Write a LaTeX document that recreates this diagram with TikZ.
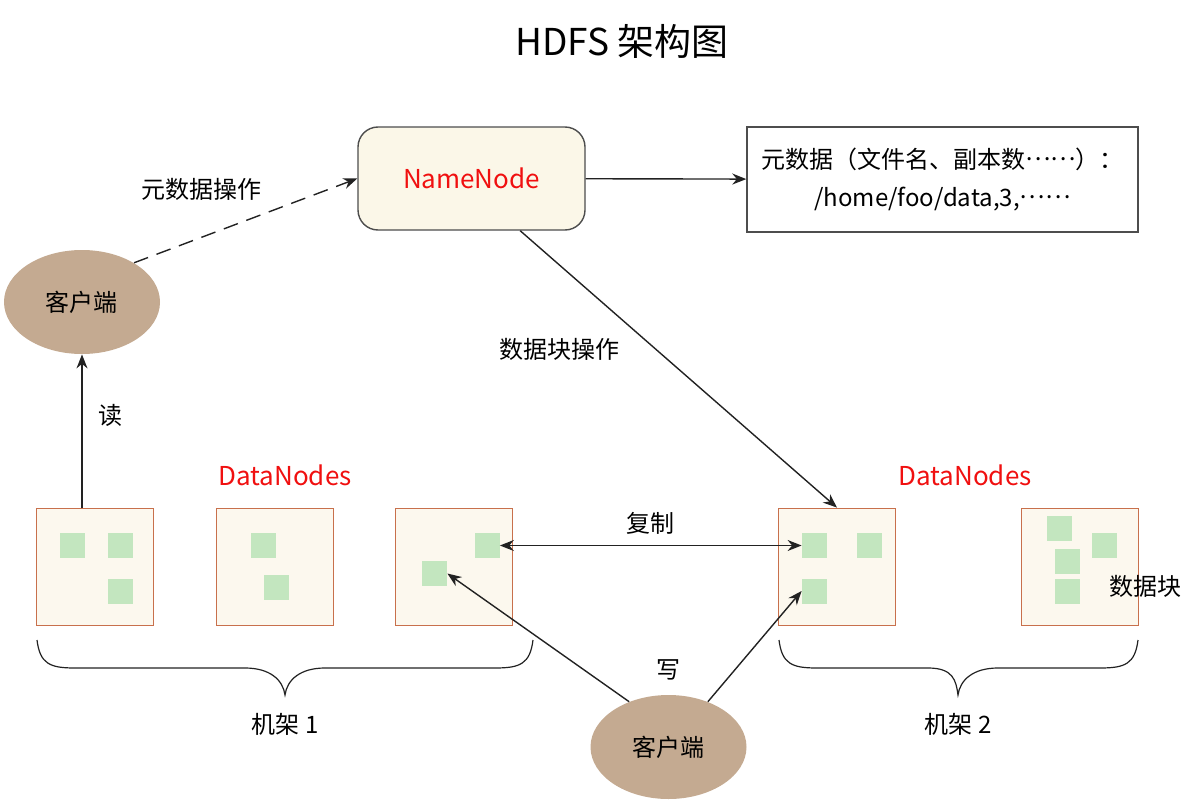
\documentclass[tikz,border=0pt]{standalone}
\usepackage{fontspec}
\setmainfont{Noto Sans CJK SC}
\usetikzlibrary{arrows.meta, shapes.geometric, positioning}

\definecolor{nnfill}{HTML}{FBF7E8}
\definecolor{nnborder}{HTML}{4D4D4D}
\definecolor{rackfill}{HTML}{FCF8EE}
\definecolor{rackborder}{HTML}{C8704C}
\definecolor{blockfill}{HTML}{C3E6BF}
\definecolor{clientfill}{HTML}{C4AA91}
\definecolor{hdfsred}{HTML}{F01010}
\definecolor{inkgray}{HTML}{222222}

\newcommand{\middots}{\raisebox{0.33em}{……}}

\begin{document}
\begin{tikzpicture}[
    x=0.5pt, y=-0.5pt,
    font=\fontsize{12}{14}\selectfont,
    master/.style={rectangle, rounded corners=10pt, minimum width=113.5pt, minimum height=51.5pt, draw=nnborder, fill=nnfill, line width=0.7pt, text=hdfsred, font=\fontsize{13}{15}\selectfont},
    metabox/.style={rectangle, minimum width=195.5pt, minimum height=52.5pt, draw=nnborder, line width=0.7pt, align=center, font=\fontsize{12}{19}\selectfont},
    client/.style={ellipse, minimum width=78pt, minimum height=52pt, fill=clientfill, inner sep=0pt},
    rack/.style={rectangle, minimum size=58.5pt, draw=rackborder, fill=rackfill, line width=0.9pt},
    blk/.style={rectangle, minimum size=12.5pt, inner sep=0pt, fill=blockfill},
    lbl/.style={inner sep=0pt},
    redlbl/.style={inner sep=0pt, text=hdfsred, font=\fontsize{13}{15}\selectfont},
    arrow/.style={line width=0.7pt, draw=inkgray, -{Stealth[length=7pt, width=5.5pt]}},
    dasharrow/.style={arrow, dash pattern=on 7.5pt off 4.5pt},
    darrow/.style={line width=0.7pt, draw=inkgray, {Stealth[length=7pt, width=5.5pt]}-{Stealth[length=7pt, width=5.5pt]}},
    brace/.style={line width=0.6pt, draw=inkgray}
]
\useasboundingbox (0,0) rectangle (1184,803);

% Title
\node (title) [lbl, font=\fontsize{18.5}{20}\selectfont] at (622,41) {HDFS 架构图};

% NameNode and metadata
\node (namenode) [master] at (471.5,178.5) {NameNode};
\node (meta) [metabox] at (942.5,179.5) {元数据（文件名、副本数\middots）：\\/home/foo/data,3,\middots};

% Clients
\node (client1) [client] at (82,302) {客户端};
\node (client2) [client] at (668.5,747) {客户端};

% DataNodes
\node (dnlabel1) [redlbl] at (285,475) {DataNodes};
\node (dnlabel2) [redlbl] at (965,475) {DataNodes};

\node (box1) [rack] at (95,567) {};
\node (box2) [rack] at (275,567) {};
\node (box3) [rack] at (454,567) {};
\node (box4) [rack] at (837,567) {};
\node (box5) [rack] at (1080,567) {};

% Blocks
\node (b1a) [blk] at (72.5,545.5) {};
\node (b1b) [blk] at (120,545.5) {};
\node (b1c) [blk] at (120,591) {};
\node (b2a) [blk] at (263,545.5) {};
\node (b2b) [blk] at (276,587.5) {};
\node (b3a) [blk] at (487,545.5) {};
\node (b3b) [blk] at (434.5,573.5) {};
\node (b4a) [blk] at (814.5,545.5) {};
\node (b4b) [blk] at (869,545.5) {};
\node (b4c) [blk] at (814.5,591) {};
\node (b5a) [blk] at (1059,528) {};
\node (b5b) [blk] at (1104,545.5) {};
\node (b5c) [blk] at (1067,561) {};
\node (b5d) [blk] at (1067,591) {};
\node (blklabel) [lbl] at (1145,586) {数据块};

% Racks
\node (rack1) [lbl] at (285,724) {机架 1};
\node (rack2) [lbl] at (958,724) {机架 2};

% Edges
\draw [dasharrow] (client1.37) -- node[lbl, pos=0.3, above=18pt] {元数据操作} (namenode.west);
\draw [arrow] (namenode) -- (meta);
\draw [arrow] (namenode.-47) -- node[lbl, pos=0.43, left=18pt] {数据块操作} (box4.north);
\draw [arrow] (box1.north -| client1.south) -- node[lbl, pos=0.6, right=8pt] {读} (client1.south);
\draw [darrow] (b3a) -- node[lbl, midway, above=5pt] {复制} (b4a);
\draw [arrow] (client2.131) -- (b3b.east);
\draw [arrow] (client2.49) -- (b4c.west);
\node (write) [lbl] at (668,670) {写};

% Braces
\draw [brace] (37,640) .. controls (40,664) and (50,668) .. (75,668) -- (245,668)
    .. controls (270,668) and (283,680) .. (285,695)
    .. controls (287,680) and (300,668) .. (325,668) -- (495,668)
    .. controls (520,668) and (530,664) .. (533,640);
\draw [brace] (779,640) .. controls (782,664) and (792,668) .. (817,668) -- (928,668)
    .. controls (953,668) and (956,680) .. (958,695)
    .. controls (960,680) and (973,668) .. (998,668) -- (1100,668)
    .. controls (1125,668) and (1135,664) .. (1138,640);

\end{tikzpicture}
\end{document}
